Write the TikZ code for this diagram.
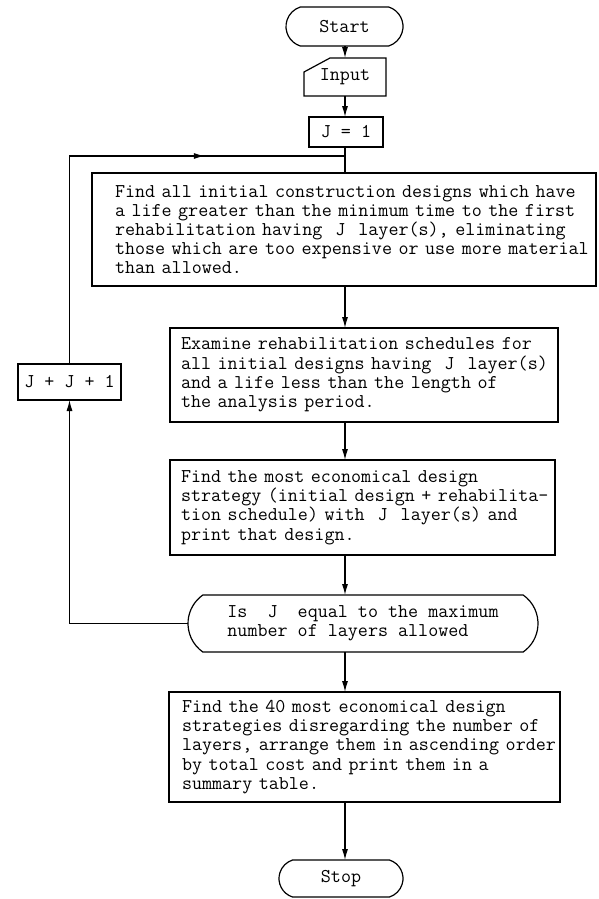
\documentclass[tikz,border=0pt]{standalone}
\usepackage{fontspec}
\usetikzlibrary{arrows.meta,shapes.misc,decorations.markings,calc}
\newcommand{\tfont}{\fontsize{19.5}{19.2}\selectfont\ttfamily}
\newcommand{\Lm}[1]{\mbox{#1}}
\begin{document}
\begin{tikzpicture}[x=1pt,y=-1pt,
  every node/.style={font=\tfont, inner sep=0pt, outer sep=0pt},
  ln/.style={line width=1.2pt, draw=black},
  arr/.style={ln, -{Latex[length=11pt,width=6pt]}},
  procbox/.style={ln, draw, rectangle, align=left},
  term/.style={ln, draw, rounded rectangle, rounded rectangle arc length=145, align=center},
  smallbox/.style={ln, draw, rectangle, align=center},
  midarrow/.style={postaction={decorate, decoration={markings,
      mark=at position #1 with {\arrow{Latex[length=11pt,width=6pt]}}}}}
]
\useasboundingbox (0,0) rectangle (598,899);
\coordinate (sp) at (345,0);

\node[term, minimum width=117pt, minimum height=39pt] (start) at (344.5,26.5) {Start};

\node[minimum width=82pt, minimum height=38pt] (inp) at (345,77) {Input};
\draw[ln] ([yshift=-14pt]inp.north west) -- ([xshift=26pt]inp.north west)
  -- (inp.north east) -- (inp.south east) -- (inp.south west) -- cycle;

\node[smallbox, minimum width=74pt, minimum height=30pt] (j1) at (346,132) {J = 1};

\coordinate (top) at (345,156);

\node[procbox, text width=458pt, inner xsep=23pt, minimum height=113pt] (b1) at (344,229.5)
 {\Lm{Find all initial construction designs which have}\\
  \Lm{a life greater than the minimum time to the first}\\
  \Lm{rehabilitation having~ J~ layer(s), eliminating}\\
  \Lm{those which are too expensive or use more material}\\
  \Lm{than allowed.}};

\node[procbox, text width=366pt, inner xsep=11pt, minimum height=94pt] (b2) at (364,375)
 {\Lm{Examine rehabilitation schedules for}\\
  \Lm{all initial designs having~ J~ layer(s)}\\
  \Lm{and a life less than the length of}\\
  \Lm{the analysis period.}};

\node[procbox, text width=363pt, inner xsep=11pt, minimum height=95pt] (b3) at (362.5,507.5)
 {\Lm{Find the most economical design}\\
  \Lm{strategy (initial design + rehabilita-}\\
  \Lm{tion schedule) with~ J~ layer(s) and}\\
  \Lm{print that design.}};

\node[term, rounded rectangle arc length=110, align=left, minimum width=350pt, minimum height=57pt] (dec) at (363,623.5)
 {\Lm{Is~ J~ equal to the maximum}\\
  \Lm{number of layers allowed}};

\node[procbox, text width=365pt, inner xsep=13pt, minimum height=110pt] (b4) at (364.5,747)
 {\Lm{Find the 40 most economical design}\\
  \Lm{strategies disregarding the number of}\\
  \Lm{layers, arrange them in ascending order}\\
  \Lm{by total cost and print them in a}\\
  \Lm{summary table.}};

\node[term, minimum width=124pt, minimum height=37pt] (stop) at (341,878.5) {Stop};

\node[smallbox, minimum width=103pt, minimum height=36pt] (jj) at (69.5,382) {J + J + 1};

% main spine
\draw[arr] (start.south -| sp) -- (inp.north -| sp);
\draw[arr] (inp.south -| sp) -- (j1.north -| sp);
\draw[ln] (j1.south -| sp) -- (b1.north -| sp);
\draw[arr] (b1.south -| sp) -- (b2.north -| sp);
\draw[arr] (b2.south -| sp) -- (b3.north -| sp);
\draw[arr] (b3.south -| sp) -- (dec.north -| sp);
\draw[arr] (dec.south -| sp) -- (b4.north -| sp);
\draw[arr] (b4.south -| sp) -- (stop.north -| sp);

% loop
\draw[arr] (dec.west) -| (jj.south);
\draw[ln, midarrow=0.71] (jj.north) |- (top);
\end{tikzpicture}
\end{document}
